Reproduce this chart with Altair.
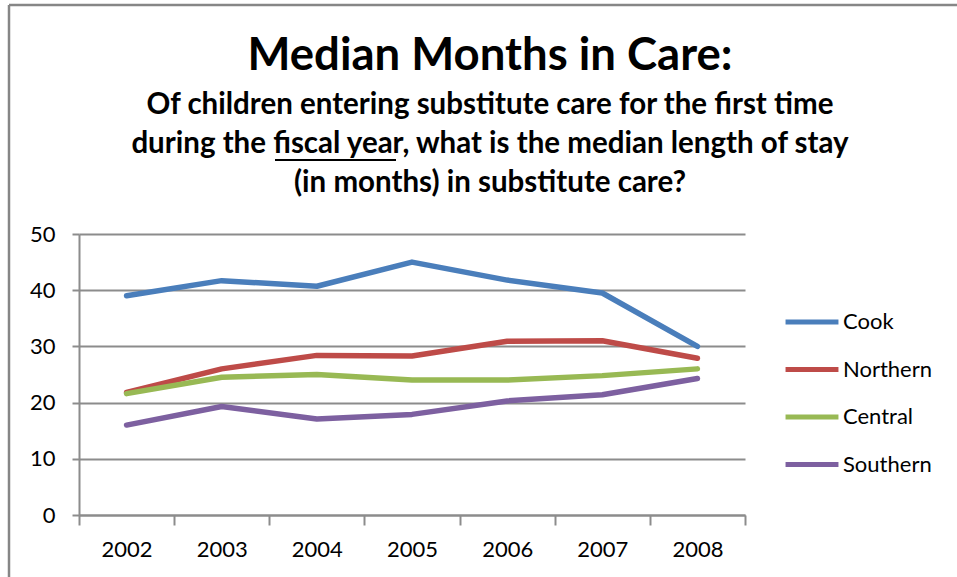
import altair as alt
import pandas as pd

years = ["2002", "2003", "2004", "2005", "2006", "2007", "2008"]
regions = ["Cook", "Northern", "Central", "Southern"]
cook = [39.0, 41.7, 40.7, 45.0, 41.8, 39.5, 30.0]
northern = [21.8, 26.0, 28.4, 28.3, 30.9, 31.0, 27.9]
central = [21.6, 24.5, 25.0, 24.0, 24.0, 24.8, 26.0]
southern = [16.0, 19.3, 17.1, 17.9, 20.3, 21.4, 24.3]
colors = ["#4A7EBB", "#BE4B48", "#98B954", "#7D60A0"]

title = "Median Months in Care:"
sub_lines = [
    "Of children entering substitute care for the first time",
    "during the fiscal year, what is the median length of stay",
    "(in months) in substitute care?",
]

rows = []
for name, vals in zip(regions, [cook, northern, central, southern]):
    for y, v in zip(years, vals):
        rows.append({"Year": y, "Region": name, "Months": v})
df = pd.DataFrame(rows)

FONT = "Lato"
GRID = "#8C8C8C"

lines = alt.Chart(df).mark_line(strokeWidth=5.5, strokeCap="round", strokeJoin="round").encode(
    x=alt.X("Year:N", sort=years, title=None,
            scale=alt.Scale(paddingInner=0, paddingOuter=0),
            axis=alt.Axis(tickBand="extent", labelAngle=0, labelFontSize=22, labelFont=FONT,
                          labelColor="#000000", tickSize=10, tickColor=GRID, tickWidth=2,
                          domainColor=GRID, domainWidth=2, labelPadding=14, grid=False)),
    y=alt.Y("Months:Q", title=None, scale=alt.Scale(domain=[0, 50]),
            axis=alt.Axis(values=[0, 10, 20, 30, 40, 50], labelFontSize=22, labelFont=FONT,
                          labelColor="#000000", tickSize=7, tickColor=GRID, tickWidth=2,
                          domainColor=GRID, domainWidth=2, gridColor=GRID, gridWidth=2,
                          labelPadding=17)),
    color=alt.Color("Region:N", sort=regions,
                    scale=alt.Scale(domain=regions, range=colors),
                    legend=alt.Legend(orient="none", legendX=704, legendY=59, title=None,
                                      symbolType="stroke", symbolSize=2800, symbolStrokeWidth=5,
                                      labelFontSize=22, labelFont=FONT, labelColor="#000000",
                                      rowPadding=7.5, labelOffset=2)),
)

title_mark = alt.Chart(pd.DataFrame({"t": [title]})).mark_text(
    font=FONT, fontSize=45.5, fontWeight="bold", align="center", baseline="middle",
    color="#000000").encode(text="t:N", x=alt.value(411), y=alt.value(-178))

sub_marks = []
for i, line in enumerate(sub_lines):
    sub_marks.append(
        alt.Chart(pd.DataFrame({"t": [line]})).mark_text(
            font=FONT, fontSize=29.5, fontWeight="bold", align="center", baseline="middle",
            color="#000000").encode(text="t:N", x=alt.value(411), y=alt.value(-129 + 39 * i))
    )

underline = alt.Chart(pd.DataFrame({"a": [0]})).mark_rule(color="#000000", strokeWidth=2).encode(
    x=alt.value(196), x2=alt.value(317), y=alt.value(-74))

border_left = alt.Chart(pd.DataFrame({"a": [0]})).mark_rule(color="#868686", strokeWidth=2.5).encode(
    x=alt.value(-70), y=alt.value(-229), y2=alt.value(343))
border_top = alt.Chart(pd.DataFrame({"a": [0]})).mark_rule(color="#868686", strokeWidth=2.5).encode(
    x=alt.value(-70), x2=alt.value(878), y=alt.value(-229))

chart = alt.layer(lines, title_mark, *sub_marks, underline, border_left, border_top).properties(
    width=666, height=281,
    autosize=alt.AutoSizeParams(type="none"),
    padding={"left": 79, "top": 234, "right": 212, "bottom": 62},
    background="#FFFFFF",
).configure_view(stroke=None)

chart.save("out.html", embed_options={"renderer": "svg", "actions": False})
